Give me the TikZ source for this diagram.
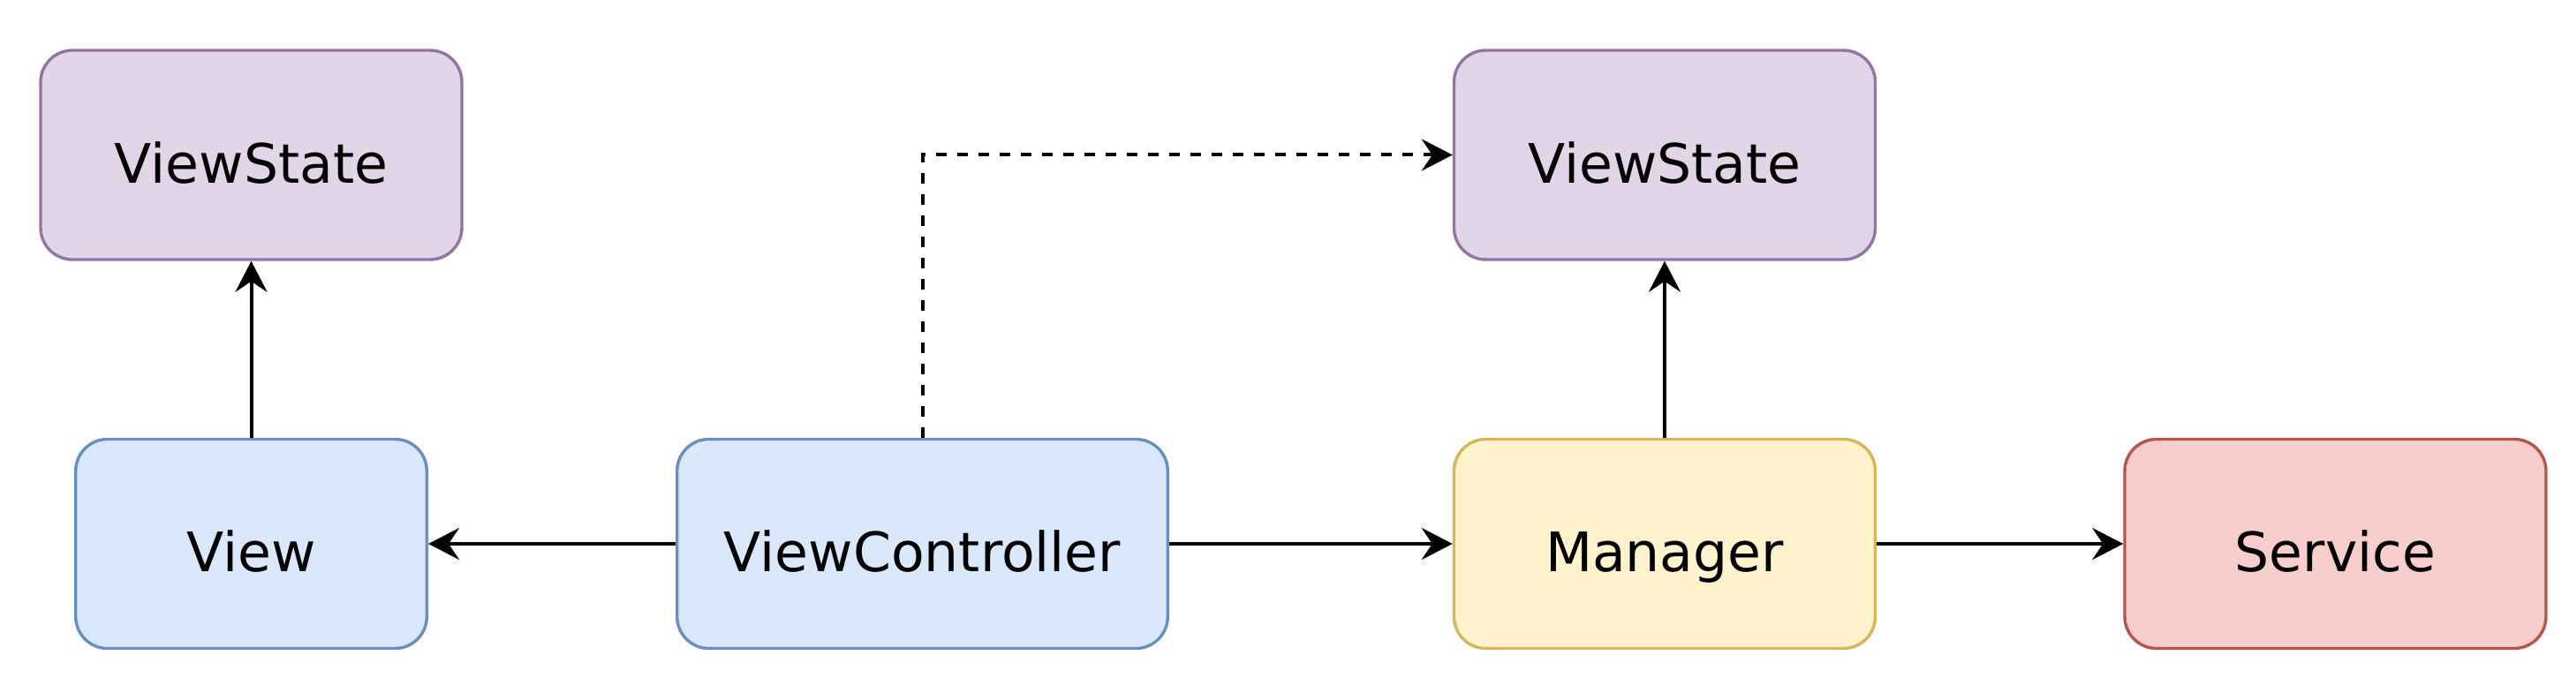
\documentclass[tikz,border=0pt]{standalone}
\usepackage{fontspec}
\setmainfont{DejaVu Sans}
\usetikzlibrary{arrows.meta,positioning}
\definecolor{stateFill}{HTML}{E1D5E7}
\definecolor{stateLine}{HTML}{9673A6}
\definecolor{viewFill}{HTML}{DAE8FC}
\definecolor{viewLine}{HTML}{6C8EBF}
\definecolor{mgrFill}{HTML}{FFF2CC}
\definecolor{mgrLine}{HTML}{D6B656}
\definecolor{svcFill}{HTML}{F8CECC}
\definecolor{svcLine}{HTML}{B85450}
\tikzstyle{box}=[draw, rounded corners=9pt, line width=0.85pt, minimum height=59.25pt, inner sep=0pt, font=\fontsize{15.4pt}{18pt}\selectfont, text height=15.8pt, text depth=0pt]
\tikzstyle{statebox}=[box, fill=stateFill, draw=stateLine, minimum width=119.25pt]
\tikzstyle{flow}=[line width=1pt, -{Stealth[length=8.75pt,width=9pt,inset=3pt]}]

\begin{document}
\begin{tikzpicture}[x=25pt,y=25pt]
    \useasboundingbox (0,0) rectangle (29.17,7.84);
    % nodes
    \node[statebox] (vsLeft) at (2.845, 6.085) {ViewState};
    \node[statebox] (vsRight) at (18.85, 6.085) {ViewState};
    \node[box, fill=viewFill, draw=viewLine, minimum width=99.4pt] (view) at (2.845, 1.68) {View};
    \node[box, fill=viewFill, draw=viewLine, minimum width=138.9pt] (vc) at (10.445, 1.68) {ViewController};
    \node[box, fill=mgrFill, draw=mgrLine, minimum width=119.25pt] (mgr) at (18.85, 1.68) {Manager};
    \node[box, fill=svcFill, draw=svcLine, minimum width=119.25pt] (svc) at (26.445, 1.68) {Service};

    % arrows
    \draw[flow] (view) -- (vsLeft);
    \draw[flow] (vc) -- (view);
    \draw[flow] (vc) -- (mgr);
    \draw[flow] (mgr) -- (svc);
    \draw[flow] (mgr) -- (vsRight);
    \draw[flow, dash pattern=on 3pt off 3pt] (vc.north) |- (vsRight.west);
\end{tikzpicture}
\end{document}
